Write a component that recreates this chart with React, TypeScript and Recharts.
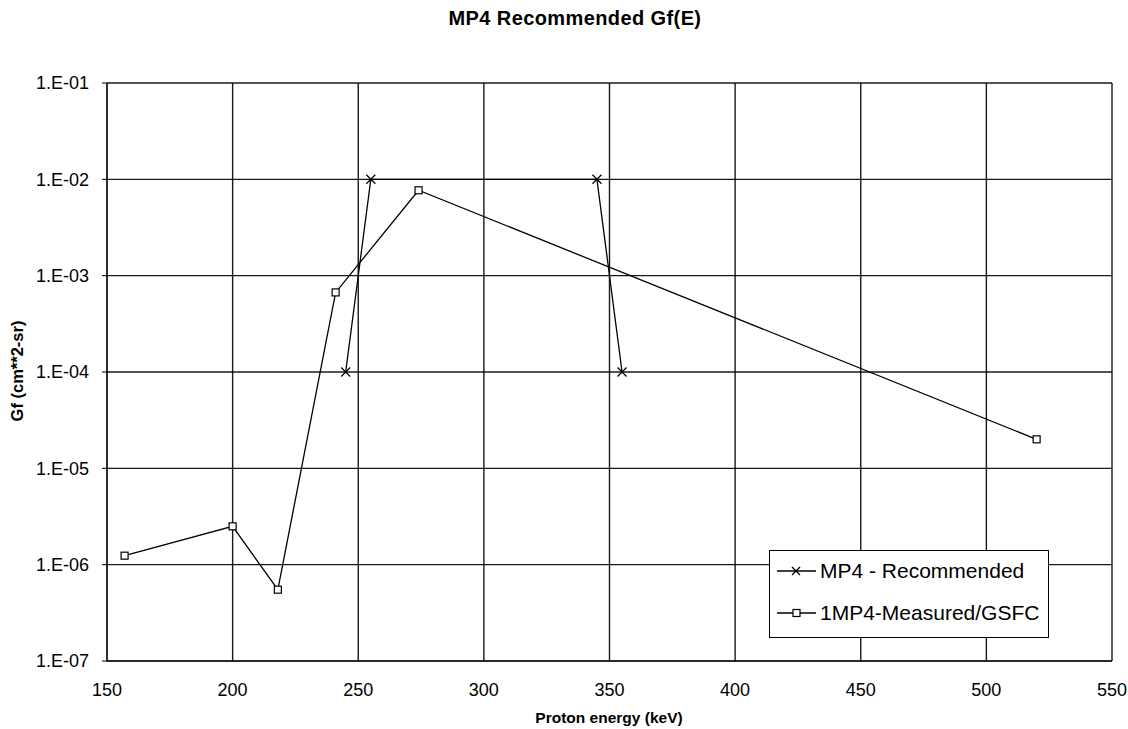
import { LineChart, Line, XAxis, YAxis, CartesianGrid } from "recharts";

// MP4 - Recommended
const recEnergy = [245, 255, 345, 355];
const recGf = [1e-4, 1e-2, 1e-2, 1e-4];

// 1MP4-Measured/GSFC
const measEnergy = [157, 200, 218, 241, 274, 520];
const measGf = [1.24e-6, 2.5e-6, 5.5e-7, 6.7e-4, 7.7e-3, 2.0e-5];

const xTicks = [150, 200, 250, 300, 350, 400, 450, 500, 550];
const yTicks = [1e-7, 1e-6, 1e-5, 1e-4, 1e-3, 1e-2, 1e-1];

const recData = recEnergy.map((x, i) => ({ x, y: recGf[i] }));
const measData = measEnergy.map((x, i) => ({ x, y: measGf[i] }));

const fmtY = (v: number) => {
  const e = Math.round(Math.log10(v));
  return "1.E-" + String(-e).padStart(2, "0");
};

const CrossDot = (props: any) => {
  const { cx, cy } = props;
  if (cx == null || cy == null) return null;
  const s = 4.5;
  return (
    <g stroke="#000" strokeWidth={1.3}>
      <line x1={cx - s} y1={cy - s} x2={cx + s} y2={cy + s} />
      <line x1={cx - s} y1={cy + s} x2={cx + s} y2={cy - s} />
    </g>
  );
};

const SquareDot = (props: any) => {
  const { cx, cy } = props;
  if (cx == null || cy == null) return null;
  return <rect x={cx - 3.5} y={cy - 3.5} width={7} height={7} fill="#fff" stroke="#000" strokeWidth={1.2} />;
};

const font = "Arial, 'Liberation Sans', sans-serif";

export default function App() {
  return (
    <div style={{ position: "absolute", left: 0, top: 0, width: 1128, height: 729, background: "#fff", fontFamily: font }}>
      <div
        style={{
          position: "absolute",
          top: 7,
          left: 375,
          width: 400,
          textAlign: "center",
          fontWeight: "bold",
          fontSize: 20,
          letterSpacing: 0.4,
        }}
      >
        MP4 Recommended Gf(E)
      </div>
      <LineChart width={1128} height={729} margin={{ top: 83, right: 16, left: 0, bottom: 38 }}>
        <CartesianGrid stroke="#000" strokeWidth={1.4} strokeOpacity={0.9} />
        <XAxis
          type="number"
          dataKey="x"
          domain={[150, 550]}
          ticks={xTicks}
          allowDataOverflow
          height={30}
          stroke="#000"
          tickSize={0}
          tickMargin={22}
          tick={{ fill: "#000", fontSize: 18, fontFamily: font }}
        />
        <YAxis
          type="number"
          dataKey="y"
          scale="log"
          domain={[1e-7, 1e-1]}
          ticks={yTicks}
          allowDataOverflow
          width={107}
          stroke="#000"
          tickSize={5}
          tickMargin={13}
          tickFormatter={fmtY}
          tick={{ fill: "#000", fontSize: 18, fontFamily: font }}
        />
        <Line
          data={recData}
          dataKey="y"
          stroke="#000"
          strokeWidth={1.3}
          dot={<CrossDot />}
          activeDot={false}
          isAnimationActive={false}
          legendType="none"
        />
        <Line
          data={measData}
          dataKey="y"
          stroke="#000"
          strokeWidth={1.3}
          dot={<SquareDot />}
          activeDot={false}
          isAnimationActive={false}
          legendType="none"
        />
      </LineChart>
      <div style={{ position: "absolute", top: 709, left: 409, width: 400, textAlign: "center", fontWeight: "bold", fontSize: 15.5 }}>
        Proton energy (keV)
      </div>
      <div
        style={{
          position: "absolute",
          left: 17,
          top: 371,
          transform: "translate(-50%, -50%) rotate(-90deg)",
          whiteSpace: "nowrap",
          fontWeight: "bold",
          fontSize: 16.5,
        }}
      >
        Gf (cm**2-sr)
      </div>
      <div
        style={{
          position: "absolute",
          left: 769,
          top: 550,
          width: 280,
          height: 88,
          border: "1.5px solid #000",
          background: "#fff",
          fontSize: 21,
          boxSizing: "border-box",
        }}
      >
        <div style={{ position: "absolute", left: 7, top: 8, display: "flex", alignItems: "center" }}>
          <svg width={39} height={14}>
            <line x1={0} y1={7} x2={39} y2={7} stroke="#000" strokeWidth={1.3} />
            <line x1={15} y1={3} x2={23} y2={11} stroke="#000" strokeWidth={1.3} />
            <line x1={15} y1={11} x2={23} y2={3} stroke="#000" strokeWidth={1.3} />
          </svg>
          <span style={{ marginLeft: 4 }}>MP4 - Recommended</span>
        </div>
        <div style={{ position: "absolute", left: 7, top: 50, display: "flex", alignItems: "center" }}>
          <svg width={39} height={14}>
            <line x1={0} y1={7} x2={39} y2={7} stroke="#000" strokeWidth={1.3} />
            <rect x={16} y={3.5} width={7} height={7} fill="#fff" stroke="#000" strokeWidth={1.2} />
          </svg>
          <span style={{ marginLeft: 4 }}>1MP4-Measured/GSFC</span>
        </div>
      </div>
    </div>
  );
}
